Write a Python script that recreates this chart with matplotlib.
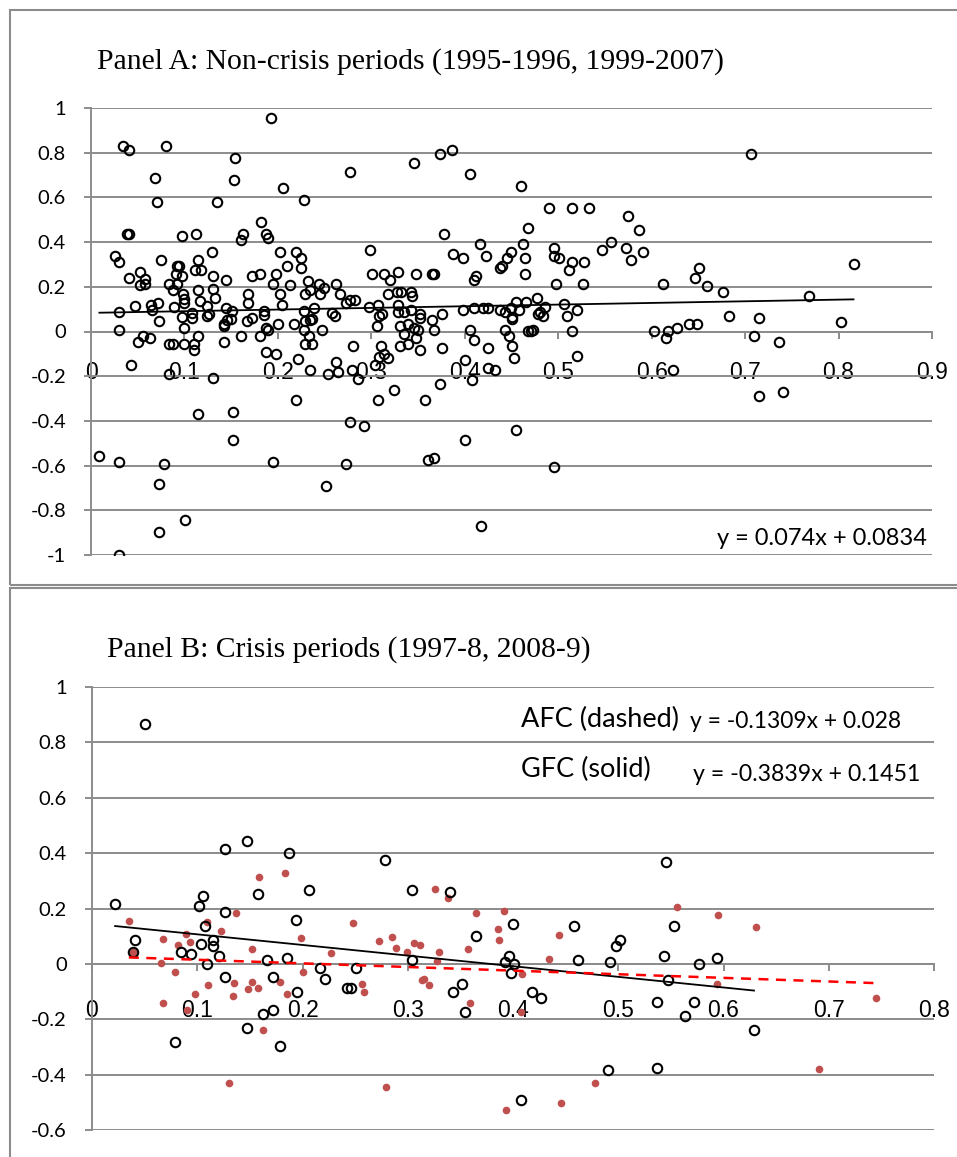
import numpy as np
import matplotlib
matplotlib.use("Agg")
import matplotlib.pyplot as plt
from matplotlib.patches import Rectangle

# ---- Panel A: non-crisis periods (x, y) ----
a_x = [0.193, 0.034, 0.041, 0.080, 0.154, 0.277, 0.069, 0.153, 0.206, 0.071,
       0.135, 0.228, 0.182, 0.039, 0.041, 0.097, 0.112, 0.163, 0.161, 0.187,
       0.189, 0.299, 0.026, 0.030, 0.075, 0.129, 0.114, 0.202, 0.219, 0.225,
       0.210, 0.225, 0.092, 0.094, 0.111, 0.118, 0.052, 0.091, 0.097, 0.041,
       0.058, 0.131, 0.144, 0.172, 0.181, 0.198, 0.301, 0.052, 0.058, 0.084,
       0.092, 0.088, 0.098, 0.115, 0.131, 0.133, 0.168, 0.195, 0.202, 0.213,
       0.232, 0.234, 0.229, 0.244, 0.249, 0.245, 0.262, 0.267, 0.273, 0.277,
       0.282, 0.047, 0.030, 0.064, 0.065, 0.072, 0.089, 0.099, 0.099, 0.097,
       0.108, 0.108, 0.117, 0.124, 0.124, 0.126, 0.144, 0.151, 0.150, 0.146,
       0.142, 0.142, 0.168, 0.167, 0.172, 0.185, 0.185, 0.187, 0.189, 0.200,
       0.204, 0.217, 0.228, 0.229, 0.234, 0.237, 0.239, 0.258, 0.261, 0.247,
       0.228, 0.298, 0.307, 0.308, 0.306, 0.030, 0.073, 0.100, 0.050, 0.056,
       0.063, 0.083, 0.088, 0.099, 0.110, 0.110, 0.114, 0.142, 0.161, 0.181,
       0.187, 0.198, 0.222, 0.229, 0.236, 0.233, 0.234, 0.254, 0.264, 0.262,
       0.280, 0.279, 0.286, 0.304, 0.308, 0.310, 0.043, 0.084, 0.131, 0.219,
       0.114, 0.152, 0.152, 0.277, 0.292, 0.307, 0.324, 0.357, 0.374, 0.408,
       0.400, 0.455, 0.009, 0.030, 0.078, 0.195, 0.273, 0.361, 0.367, 0.073,
       0.251, 0.073, 0.101, 0.417, 0.030, 0.400, 0.425, 0.432, 0.453, 0.450,
       0.447, 0.410, 0.425, 0.376, 0.352, 0.348, 0.339, 0.331, 0.335, 0.318,
       0.314, 0.468, 0.346, 0.373, 0.386, 0.406, 0.460, 0.490, 0.515, 0.533,
       0.575, 0.586, 0.468, 0.378, 0.416, 0.462, 0.556, 0.547, 0.573, 0.578,
       0.591, 0.496, 0.496, 0.501, 0.387, 0.398, 0.423, 0.449, 0.445, 0.440,
       0.438, 0.464, 0.464, 0.515, 0.511, 0.528, 0.498, 0.526, 0.612, 0.314,
       0.329, 0.320, 0.348, 0.365, 0.367, 0.412, 0.410, 0.318, 0.327, 0.332,
       0.342, 0.344, 0.477, 0.455, 0.466, 0.506, 0.311, 0.329, 0.329, 0.335,
       0.342, 0.352, 0.352, 0.365, 0.376, 0.398, 0.410, 0.419, 0.425, 0.438,
       0.443, 0.449, 0.451, 0.451, 0.458, 0.478, 0.481, 0.484, 0.486, 0.509,
       0.520, 0.331, 0.339, 0.346, 0.350, 0.367, 0.406, 0.443, 0.471, 0.473,
       0.515, 0.603, 0.618, 0.615, 0.520, 0.706, 0.816, 0.651, 0.646, 0.659,
       0.676, 0.768, 0.683, 0.715, 0.803, 0.640, 0.648, 0.627, 0.709, 0.736,
       0.623, 0.741, 0.715, 0.496]
a_y = [0.957, 0.831, 0.812, 0.831, 0.777, 0.714, 0.687, 0.678, 0.643, 0.580,
       0.580, 0.589, 0.490, 0.436, 0.436, 0.427, 0.436, 0.436, 0.409, 0.436,
       0.418, 0.365, 0.338, 0.311, 0.320, 0.356, 0.320, 0.356, 0.356, 0.329,
       0.293, 0.284, 0.293, 0.293, 0.275, 0.275, 0.266, 0.257, 0.248, 0.239,
       0.235, 0.248, 0.230, 0.248, 0.257, 0.257, 0.257, 0.206, 0.214, 0.214,
       0.214, 0.185, 0.170, 0.184, 0.188, 0.149, 0.170, 0.214, 0.170, 0.206,
       0.224, 0.184, 0.170, 0.214, 0.196, 0.170, 0.214, 0.170, 0.126, 0.143,
       0.143, 0.113, 0.088, 0.117, 0.097, 0.126, 0.108, 0.147, 0.126, 0.064,
       0.081, 0.060, 0.135, 0.112, 0.069, 0.079, 0.106, 0.093, 0.057, 0.052,
       0.035, 0.024, 0.127, 0.045, 0.060, 0.090, 0.072, 0.017, 0.008, 0.035,
       0.117, 0.035, 0.090, 0.049, 0.050, 0.058, 0.106, 0.082, 0.069, 0.008,
       0.008, 0.108, 0.117, 0.070, 0.026, 0.008, 0.045, 0.017, -0.045, -0.019,
       -0.028, -0.055, -0.055, -0.055, -0.055, -0.081, -0.019, -0.045, -0.019, -0.019,
       -0.090, -0.100, -0.124, -0.055, -0.055, -0.019, -0.172, -0.190, -0.182, -0.135,
       -0.066, -0.172, -0.214, -0.152, -0.115, -0.066, -0.152, -0.190, -0.208, -0.306,
       -0.369, -0.360, -0.486, -0.404, -0.423, -0.306, -0.261, -0.306, -0.235, -0.217,
       -0.486, -0.441, -0.556, -0.583, -0.593, -0.583, -0.593, -0.575, -0.566, -0.683,
       -0.691, -0.897, -0.843, -0.870, -1.000, -0.127, -0.163, -0.172, -0.118, -0.064,
       -0.019, -0.037, -0.073, -0.073, -0.082, -0.028, -0.055, -0.064, -0.010, -0.118,
       -0.100, 0.004, 0.752, 0.795, 0.812, 0.705, 0.652, 0.553, 0.553, 0.553,
       0.517, 0.454, 0.463, 0.436, 0.391, 0.391, 0.400, 0.365, 0.373, 0.320,
       0.356, 0.373, 0.338, 0.331, 0.347, 0.329, 0.338, 0.356, 0.329, 0.293,
       0.284, 0.329, 0.257, 0.311, 0.275, 0.311, 0.212, 0.212, 0.212, 0.257,
       0.266, 0.230, 0.257, 0.257, 0.257, 0.248, 0.230, 0.167, 0.178, 0.178,
       0.178, 0.160, 0.151, 0.133, 0.133, 0.124, 0.079, 0.117, 0.088, 0.088,
       0.097, 0.079, 0.060, 0.052, 0.079, 0.097, 0.106, 0.106, 0.106, 0.097,
       0.088, 0.106, 0.067, 0.058, 0.097, 0.079, 0.087, 0.069, 0.108, 0.069,
       0.097, 0.026, 0.035, 0.017, 0.008, 0.008, 0.008, 0.008, 0.001, 0.008,
       0.001, 0.001, 0.001, -0.028, -0.109, 0.795, 0.304, 0.286, 0.241, 0.203,
       0.178, 0.160, 0.069, 0.060, 0.044, 0.035, 0.035, 0.017, -0.019, -0.046,
       -0.172, -0.270, -0.287, -0.605]

# Panel A trend line (as printed on the chart)
a_slope, a_icept = 0.074, 0.0834
a_eq = "y = 0.074x + 0.0834"

# ---- Panel B: crisis periods ----
# GFC (black open circles)
gfc_x = [0.050, 0.126, 0.147, 0.187, 0.158, 0.206, 0.022, 0.102, 0.105, 0.126,
         0.194, 0.107, 0.041, 0.039, 0.115, 0.115, 0.104, 0.085, 0.094, 0.121,
         0.109, 0.166, 0.185, 0.217, 0.251, 0.126, 0.172, 0.221, 0.278, 0.304,
         0.340, 0.545, 0.365, 0.400, 0.458, 0.498, 0.502, 0.304, 0.396, 0.392,
         0.401, 0.398, 0.462, 0.492, 0.543, 0.553, 0.577, 0.594, 0.195, 0.242,
         0.246, 0.343, 0.352, 0.354, 0.418, 0.427, 0.547, 0.537, 0.572, 0.563,
         0.629, 0.147, 0.162, 0.172, 0.079, 0.179, 0.490, 0.537, 0.408]
gfc_y = [0.865, 0.416, 0.445, 0.402, 0.252, 0.266, 0.216, 0.208, 0.244, 0.187,
         0.158, 0.136, 0.087, 0.042, 0.086, 0.064, 0.071, 0.042, 0.035, 0.029,
         0.000, 0.013, 0.022, -0.014, -0.014, -0.046, -0.046, -0.053, 0.374, 0.266,
         0.259, 0.367, 0.100, 0.143, 0.136, 0.064, 0.086, 0.013, 0.028, 0.006,
         -0.001, -0.034, 0.013, 0.006, 0.028, 0.136, -0.001, 0.021, -0.102, -0.087,
         -0.087, -0.102, -0.072, -0.173, -0.102, -0.123, -0.058, -0.138, -0.138, -0.188,
         -0.238, -0.232, -0.181, -0.166, -0.282, -0.296, -0.383, -0.375, -0.491]

# AFC (red dots)
afc_x = [0.035, 0.039, 0.067, 0.066, 0.079, 0.082, 0.089, 0.093, 0.109, 0.123,
         0.137, 0.152, 0.159, 0.183, 0.199, 0.227, 0.248, 0.200, 0.273, 0.285,
         0.289, 0.306, 0.312, 0.299, 0.330, 0.328, 0.326, 0.338, 0.357, 0.365,
         0.391, 0.386, 0.387, 0.444, 0.434, 0.409, 0.315, 0.556, 0.595, 0.631,
         0.067, 0.090, 0.098, 0.110, 0.135, 0.134, 0.148, 0.152, 0.158, 0.179,
         0.185, 0.162, 0.130, 0.257, 0.258, 0.279, 0.314, 0.320, 0.359, 0.408,
         0.393, 0.446, 0.478, 0.594, 0.691, 0.745]
afc_y = [0.154, 0.042, 0.089, 0.002, -0.030, 0.068, 0.107, 0.078, 0.151, 0.118,
         0.183, 0.053, 0.313, 0.327, 0.093, 0.039, 0.147, -0.030, 0.082, 0.096,
         0.057, 0.075, 0.068, 0.042, 0.042, 0.010, 0.270, 0.237, 0.053, 0.183,
         0.190, 0.125, 0.086, 0.104, 0.017, -0.036, -0.055, 0.205, 0.176, 0.133,
         -0.142, -0.166, -0.109, -0.077, -0.070, -0.115, -0.091, -0.067, -0.087, -0.066,
         -0.109, -0.238, -0.431, -0.073, -0.102, -0.445, -0.060, -0.077, -0.142, -0.173,
         -0.527, -0.503, -0.431, -0.073, -0.379, -0.123]

afc_slope, afc_icept = -0.1309, 0.028
gfc_slope, gfc_icept = -0.3839, 0.1451
afc_eq = "y = -0.1309x + 0.028"
gfc_eq = "y = -0.3839x + 0.1451"

title_a = "Panel A: Non-crisis periods (1995-1996, 1999-2007)"
title_b = "Panel B: Crisis periods (1997-8, 2008-9)"

GRID = "#8c8c8c"
RED = "#C0504D"
W, H = 957, 1157

SERIF = ["Liberation Serif", "DejaVu Serif"]
SANS = ["Lato", "DejaVu Sans"]
NARROW = ["Liberation Sans Narrow", "Liberation Sans", "DejaVu Sans"]


def fx(px):
    return px / W


def fy(py):
    return 1 - py / H


def fmt(v):
    v = round(v, 3)
    if abs(v) < 1e-9:
        return "0"
    return f"{v:g}"


def style_axes(ax, xmax, ymin, ymax, xpad, ypad):
    ax.set_xlim(0, xmax)
    ax.set_ylim(ymin, ymax)
    for s in ["top", "right"]:
        ax.spines[s].set_visible(False)
    ax.spines["left"].set_color(GRID)
    ax.spines["left"].set_linewidth(1.4)
    ax.spines["bottom"].set_position(("data", 0))
    ax.spines["bottom"].set_color(GRID)
    ax.spines["bottom"].set_linewidth(1.4)
    xt = np.round(np.arange(0, xmax + 1e-9, 0.1), 2)
    yt = np.round(np.arange(ymin, ymax + 1e-9, 0.2), 2)
    ax.set_xticks(xt)
    ax.set_xticklabels([fmt(v) for v in xt], family=NARROW, fontsize=16.5)
    ax.set_yticks(yt)
    ax.set_yticklabels([fmt(v) for v in yt], family=SANS, fontsize=14.5)
    ax.tick_params(axis="x", direction="out", length=5, width=1.4, color=GRID,
                   pad=xpad, labelcolor="black")
    ax.tick_params(axis="y", direction="out", length=5, width=1.4, color=GRID,
                   pad=ypad, labelcolor="black")
    ax.yaxis.grid(True, color=GRID, linewidth=1.4)
    ax.set_axisbelow(True)
    ax.patch.set_alpha(0)


fig = plt.figure(figsize=(W / 100, H / 100), dpi=100)

# chart frames
fig.patches.append(Rectangle((fx(10), fy(585)), fx(960) - fx(10), fy(10) - fy(585),
                             transform=fig.transFigure, fill=False,
                             edgecolor=GRID, linewidth=1.5))
fig.patches.append(Rectangle((fx(10), fy(1165)), fx(960) - fx(10), fy(588) - fy(1165),
                             transform=fig.transFigure, fill=False,
                             edgecolor=GRID, linewidth=1.5))

# ---- Panel A ----
axA = fig.add_axes([fx(91), fy(555), fx(932) - fx(91), fy(108) - fy(555)])
style_axes(axA, 0.9, -1.0, 1.0, xpad=16, ypad=13)
axA.plot(a_x, a_y, "o", ms=6.8, mfc="none", mec="black", mew=1.5, zorder=3)
xa = np.array([min(a_x), max(a_x)])
axA.plot(xa, a_slope * xa + a_icept, color="black", lw=1.3, zorder=4)
fig.text(fx(97), fy(69), title_a, family=SERIF, fontsize=21.3, va="baseline")
fig.text(fx(927), fy(545), a_eq, family=SANS, fontsize=17, ha="right", va="baseline")

# ---- Panel B ----
axB = fig.add_axes([fx(92), fy(1130), fx(934) - fx(92), fy(687) - fy(1130)])
style_axes(axB, 0.8, -0.6, 1.0, xpad=20, ypad=13)
axB.plot(afc_x, afc_y, "o", ms=5.5, mfc=RED, mec=RED, mew=0, zorder=3)
axB.plot(gfc_x, gfc_y, "o", ms=6.8, mfc="none", mec="black", mew=1.5, zorder=4)
xg = np.array([min(gfc_x), max(gfc_x)])
axB.plot(xg, gfc_slope * xg + gfc_icept, color="black", lw=1.3, zorder=5)
xr = np.array([min(afc_x), max(afc_x)])
axB.plot(xr, afc_slope * xr + afc_icept, color="red", lw=1.8, ls=(0, (4, 3)), zorder=6)

fig.text(fx(107), fy(657), title_b, family=SERIF, fontsize=21.3, va="baseline")
fig.text(fx(521), fy(727), "AFC (dashed)", family=SANS, fontsize=19.5, va="baseline")
fig.text(fx(521), fy(777), "GFC (solid)", family=SANS, fontsize=19.5, va="baseline")
fig.text(fx(690), fy(728), afc_eq, family=SANS, fontsize=16.5, va="baseline")
fig.text(fx(693), fy(781), gfc_eq, family=SANS, fontsize=16.7, va="baseline")

fig.savefig("out.png", dpi=100)
